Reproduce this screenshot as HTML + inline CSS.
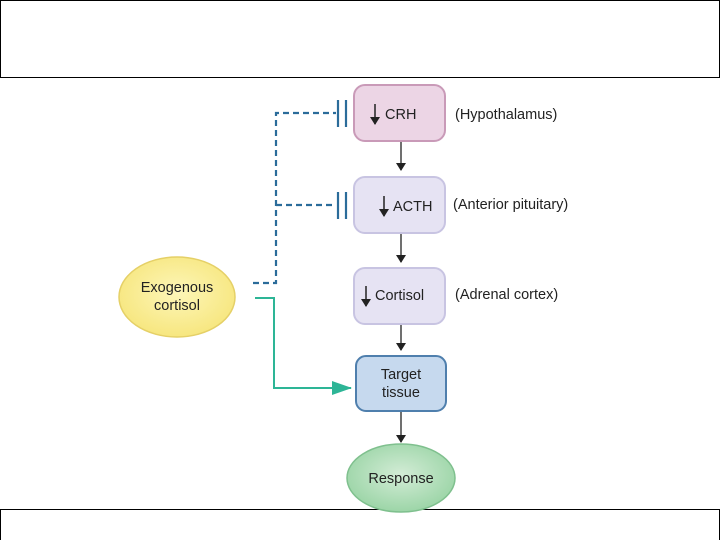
<!DOCTYPE html>
<html><head><style>body{margin:0;background:#fff}svg{display:block}text{font-family:"Liberation Sans",sans-serif;font-size:14.5px;fill:#222}</style></head><body>
<svg width="720" height="540" viewBox="0 0 720 540">
<defs>
<radialGradient id="y" cx="50%" cy="45%" r="60%"><stop offset="0" stop-color="#fdf6b8"/><stop offset="1" stop-color="#f6e57a"/></radialGradient>
<radialGradient id="g" cx="50%" cy="45%" r="60%"><stop offset="0" stop-color="#d3ecd6"/><stop offset="1" stop-color="#97d3a3"/></radialGradient>
<marker id="a" markerWidth="8" markerHeight="10" refX="7" refY="5" orient="auto" markerUnits="userSpaceOnUse"><path d="M0,0L8,5L0,10z" fill="#222"/></marker>
<marker id="ga" markerWidth="20" markerHeight="14" refX="19" refY="7" orient="auto" markerUnits="userSpaceOnUse"><path d="M0,0L20,7L0,14z" fill="#2db596"/></marker>
</defs>
<rect x="0.5" y="0.5" width="719" height="77" fill="#fff" stroke="#000"/>
<rect x="0.5" y="509.5" width="719" height="40" fill="#fff" stroke="#000"/>
<rect x="354" y="85" width="91" height="56" rx="11" fill="#ecd5e5" stroke="#c99ab8" stroke-width="2"/>
<rect x="354" y="177" width="91" height="56" rx="11" fill="#e6e3f3" stroke="#c8c4e2" stroke-width="2"/>
<rect x="354" y="268" width="91" height="56" rx="11" fill="#e6e3f3" stroke="#c8c4e2" stroke-width="2"/>
<rect x="356" y="356" width="90" height="55" rx="10" fill="#c6d9ee" stroke="#4f7fad" stroke-width="2"/>
<ellipse cx="401" cy="478" rx="54" ry="34" fill="url(#g)" stroke="#7fc08e" stroke-width="1.5"/>
<ellipse cx="177" cy="297" rx="58" ry="40" fill="url(#y)" stroke="#e5d067" stroke-width="1.5"/>
<g stroke="#222" stroke-width="1.3" fill="none">
<line x1="401" y1="142" x2="401" y2="170" marker-end="url(#a)"/>
<line x1="401" y1="234" x2="401" y2="262" marker-end="url(#a)"/>
<line x1="401" y1="325" x2="401" y2="350" marker-end="url(#a)"/>
<line x1="401" y1="412" x2="401" y2="442" marker-end="url(#a)"/>
</g>
<g stroke="#222" stroke-width="1.5">
<line x1="375" y1="104" x2="375" y2="124" marker-end="url(#a)"/>
<line x1="384" y1="196" x2="384" y2="216" marker-end="url(#a)"/>
<line x1="366" y1="286" x2="366" y2="306" marker-end="url(#a)"/>
</g>
<g stroke="#2b6c9a" stroke-width="2.2" fill="none">
<path d="M253,283H276V113H336" stroke-dasharray="6,4"/>
<path d="M276,205H336" stroke-dasharray="6,4"/>
<line x1="338" y1="100" x2="338" y2="127"/><line x1="346" y1="100" x2="346" y2="127"/>
<line x1="338" y1="192" x2="338" y2="219"/><line x1="346" y1="192" x2="346" y2="219"/>
</g>
<path d="M255,298H274V388H351" stroke="#2db596" stroke-width="2" fill="none" marker-end="url(#ga)"/>
<text x="385" y="119">CRH</text>
<text x="393" y="211">ACTH</text>
<text x="375" y="300">Cortisol</text>
<text x="401" y="379" text-anchor="middle">Target</text>
<text x="401" y="397" text-anchor="middle">tissue</text>
<text x="401" y="483" text-anchor="middle">Response</text>
<text x="177" y="292" text-anchor="middle">Exogenous</text>
<text x="177" y="310" text-anchor="middle">cortisol</text>
<text x="455" y="119">(Hypothalamus)</text>
<text x="453" y="209">(Anterior pituitary)</text>
<text x="455" y="299">(Adrenal cortex)</text>
</svg>
</body></html>
